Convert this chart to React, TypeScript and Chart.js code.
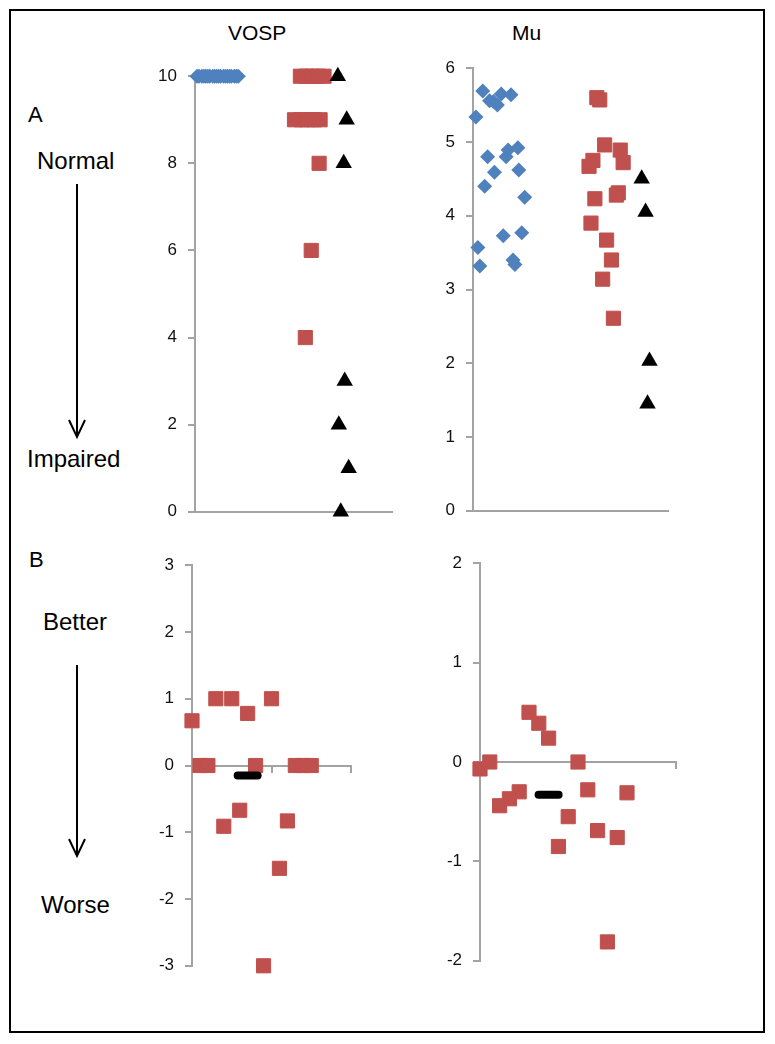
import React, { useEffect, useRef } from 'react';
import { Chart, registerables } from 'chart.js';

Chart.register(...registerables);

const FONT = '"Liberation Sans", Arial, Helvetica, sans-serif';
const RED = '#C0504D';
const BLUE = '#4F81BD';
const BLACK = '#000000';
const AXIS = '#a3a3a3';

// ---------- Panel A: VOSP ----------
const vospCtrlX = [0.02, 0.04, 0.07, 0.09, 0.11, 0.13, 0.15, 0.18, 0.2, 0.22, 0.24, 0.26, 0.29, 0.31, 0.33, 0.35, 0.37, 0.4, 0.42, 0.44];
const vospCtrlY = [10, 10, 10, 10, 10, 10, 10, 10, 10, 10, 10, 10, 10, 10, 10, 10, 10, 10, 10, 10];
const vospPatX = [1.07, 1.13, 1.19, 1.25, 1.31, 1.01, 1.08, 1.14, 1.21, 1.27, 1.26, 1.18, 1.12];
const vospPatY = [10, 10, 10, 10, 10, 9, 9, 9, 9, 9, 8, 6, 4];
const vospTriX = [1.45, 1.54, 1.51, 1.52, 1.46, 1.56, 1.48];
const vospTriY = [10, 9, 8, 3, 2, 1, 0];
const vospTicks = { min: 0, max: 10, step: 2 };

// ---------- Panel A: Mu ----------
const muCtrlX = [0.10, 0.03, 0.17, 0.21, 0.25, 0.29, 0.39, 0.15, 0.34, 0.36, 0.46, 0.22, 0.47, 0.12, 0.53, 0.31, 0.50, 0.05, 0.07, 0.41, 0.43];
const muCtrlY = [5.69, 5.34, 5.56, 5.55, 5.50, 5.65, 5.64, 4.80, 4.80, 4.89, 4.92, 4.59, 4.62, 4.40, 4.25, 3.73, 3.77, 3.57, 3.32, 3.40, 3.34];
const muPatX = [1.27, 1.30, 1.35, 1.51, 1.54, 1.23, 1.19, 1.49, 1.47, 1.25, 1.21, 1.37, 1.42, 1.33, 1.44];
const muPatY = [5.60, 5.57, 4.96, 4.89, 4.72, 4.75, 4.67, 4.31, 4.28, 4.23, 3.90, 3.67, 3.40, 3.14, 2.61];
const muTriX = [1.73, 1.77, 1.81, 1.79];
const muTriY = [4.50, 4.05, 2.03, 1.45];
const muTicks = { min: 0, max: 6, step: 1 };

// ---------- Panel B: VOSP change ----------
const vospChgX = [0, 0.1, 0.2, 0.3, 0.4, 0.5, 0.6, 0.7, 0.8, 0.9, 1.0, 1.1, 1.2, 1.3, 1.4, 1.5];
const vospChgY = [0.67, 0, 0, 1, -0.91, 1, -0.67, 0.78, 0, -3, 1, -1.54, -0.83, 0, 0, 0];
const vospMeanX = [0.7];
const vospMeanY = [-0.15];
const vospChgTicks = { min: -3, max: 3, step: 1 };

// ---------- Panel B: Mu change ----------
const muChgX = [0, 0.1, 0.2, 0.3, 0.4, 0.5, 0.6, 0.7, 0.8, 0.9, 1.0, 1.1, 1.2, 1.3, 1.4, 1.5];
const muChgY = [-0.07, 0, -0.44, -0.37, -0.30, 0.50, 0.39, 0.24, -0.85, -0.55, 0, -0.28, -0.69, -1.81, -0.76, -0.31];
const muMeanX = [0.7];
const muMeanY = [-0.33];
const muChgTicks = { min: -2, max: 2, step: 1 };

const xRange = { min: 0, max: 2 };

const pts = (xs: number[], ys: number[]) => xs.map((x, i) => ({ x, y: ys[i] }));

const diamonds = (xs: number[], ys: number[]) => ({
  data: pts(xs, ys), pointStyle: 'rectRot', pointRadius: 7.5, backgroundColor: BLUE, borderColor: BLUE,
  borderWidth: 0, clip: false, order: 3,
});
const squares = (xs: number[], ys: number[]) => ({
  data: pts(xs, ys), pointStyle: 'rect', pointRadius: 10, backgroundColor: RED, borderColor: RED,
  borderWidth: 1, clip: false, order: 2,
});
const triangles = (xs: number[], ys: number[]) => ({
  data: pts(xs, ys), pointStyle: 'triangle', pointRadius: 9.5, backgroundColor: BLACK, borderColor: BLACK,
  borderWidth: 0, clip: false, order: 1,
});
const meanBar = (xs: number[], ys: number[]) => ({
  data: pts(xs, ys), pointStyle: 'line', pointRadius: 10, backgroundColor: BLACK, borderColor: BLACK,
  borderWidth: 8, clip: false, order: 0, roundCap: true,
});

const roundCapPlugin = {
  id: 'roundCap',
  beforeDatasetDraw(chart: any, args: any) {
    const ds = chart.data.datasets[args.index];
    chart.ctx.lineCap = ds && ds.roundCap ? 'round' : 'butt';
  },
  afterDatasetDraw(chart: any) {
    chart.ctx.lineCap = 'butt';
  },
};

type Area = { left: number; top: number; right: number; bottom: number };

const PAD_T = 20, PAD_R = 20, PAD_B = 20, YW = 60;

function Panel({ area, yt, xTicks, datasets }: { area: Area; yt: { min: number; max: number; step: number }; xTicks: boolean; datasets: any[] }) {
  const ref = useRef<HTMLCanvasElement>(null);
  const width = YW + (area.right - area.left) + PAD_R;
  const height = PAD_T + (area.bottom - area.top) + PAD_B;
  useEffect(() => {
    if (!ref.current) return;
    const chart = new Chart(ref.current, {
      type: 'scatter',
      data: { datasets },
      plugins: [roundCapPlugin],
      options: {
        animation: false,
        responsive: false,
        events: [],
        layout: { padding: { top: PAD_T, right: PAD_R, bottom: PAD_B, left: 0 } },
        plugins: { legend: { display: false }, tooltip: { enabled: false } },
        scales: {
          x: {
            type: 'linear',
            min: xRange.min,
            max: xRange.max,
            position: { y: 0 } as any,
            ticks: { display: false, stepSize: 1 },
            grid: { display: true, drawOnChartArea: false, drawTicks: xTicks, tickLength: 6, color: AXIS, lineWidth: 2 },
            border: { display: true, color: AXIS, width: 2 },
          },
          y: {
            type: 'linear',
            position: 'left',
            min: yt.min,
            max: yt.max,
            ticks: { stepSize: yt.step, font: { family: FONT, size: 17 }, color: '#111111', padding: 11 },
            grid: { display: true, drawOnChartArea: false, drawTicks: true, tickLength: 7, color: AXIS, lineWidth: 2 },
            border: { display: true, color: AXIS, width: 2 },
            afterFit: (s: any) => { s.width = YW; },
          },
        },
      } as any,
    });
    return () => chart.destroy();
  }, []);
  return (
    <canvas
      ref={ref}
      width={width}
      height={height}
      style={{ position: 'absolute', left: area.left - YW, top: area.top - PAD_T, width, height }}
    />
  );
}

function Label({ text, left, cy, size }: { text: string; left: number; cy: number; size: number }) {
  return (
    <div style={{ position: 'absolute', left, top: cy - size * 0.49, fontFamily: FONT, fontSize: size, lineHeight: 1, color: '#000', whiteSpace: 'nowrap' }}>
      {text}
    </div>
  );
}

export default function App() {
  return (
    <div style={{ position: 'absolute', left: 0, top: 0, width: 775, height: 1044, background: '#fff', overflow: 'hidden' }}>
      <div style={{ position: 'absolute', left: 9, top: 9, width: 756, height: 1024, boxSizing: 'border-box', border: '2px solid #000' }} />
      <Panel
        area={{ left: 195, top: 75, right: 392, bottom: 513 }}
        yt={vospTicks}
        xTicks={false}
        datasets={[diamonds(vospCtrlX, vospCtrlY), squares(vospPatX, vospPatY), triangles(vospTriX, vospTriY)]}
      />
      <Panel
        area={{ left: 473, top: 67, right: 668, bottom: 512 }}
        yt={muTicks}
        xTicks={false}
        datasets={[diamonds(muCtrlX, muCtrlY), squares(muPatX, muPatY), triangles(muTriX, muTriY)]}
      />
      <Panel
        area={{ left: 192, top: 564, right: 351, bottom: 967 }}
        yt={vospChgTicks}
        xTicks={true}
        datasets={[squares(vospChgX, vospChgY), meanBar(vospMeanX, vospMeanY)]}
      />
      <Panel
        area={{ left: 480, top: 562, right: 676, bottom: 962 }}
        yt={muChgTicks}
        xTicks={true}
        datasets={[squares(muChgX, muChgY), meanBar(muMeanX, muMeanY)]}
      />
      <Label text="VOSP" left={228} cy={32} size={21} />
      <Label text="Mu" left={512} cy={32} size={21} />
      <Label text="A" left={28} cy={115} size={22} />
      <Label text="Normal" left={37} cy={161} size={24} />
      <Label text="Impaired" left={27} cy={459} size={24} />
      <Label text="B" left={29} cy={560} size={22} />
      <Label text="Better" left={43} cy={622} size={24} />
      <Label text="Worse" left={41} cy={905} size={24} />
      <svg width={775} height={1044} style={{ position: 'absolute', left: 0, top: 0, pointerEvents: 'none' }}>
        <g stroke="#000" strokeWidth={2} fill="none">
          <line x1={77} y1={184} x2={77} y2={437} />
          <polyline points="69,420 77,437 85,420" />
          <line x1={77} y1={665} x2={77} y2={856} />
          <polyline points="69,839 77,856 85,839" />
        </g>
      </svg>
    </div>
  );
}
